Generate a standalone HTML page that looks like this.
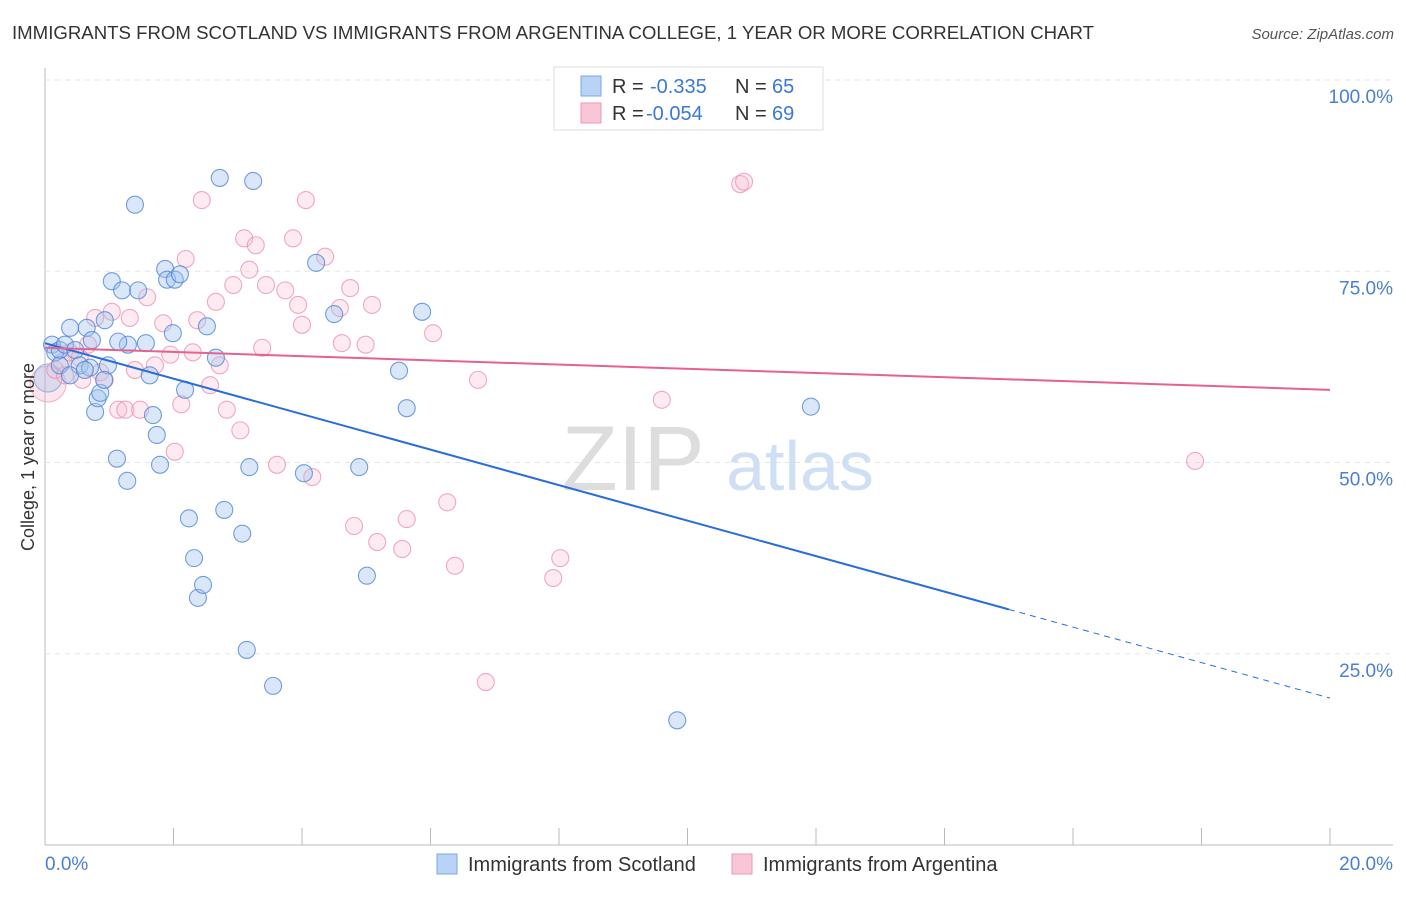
<!DOCTYPE html>
<html><head><meta charset="utf-8"><style>
body{margin:0;background:#fff;font-family:"Liberation Sans",sans-serif;}
svg text{font-family:"Liberation Sans",sans-serif;}
</style></head><body>
<svg id="chart" width="1406" height="892" xmlns="http://www.w3.org/2000/svg">
<text x="12" y="39" font-size="18" fill="#333" textLength="1082" lengthAdjust="spacingAndGlyphs">IMMIGRANTS FROM SCOTLAND VS IMMIGRANTS FROM ARGENTINA COLLEGE, 1 YEAR OR MORE CORRELATION CHART</text>
<text x="1394" y="39" font-size="15" fill="#555" font-style="italic" text-anchor="end">Source: ZipAtlas.com</text>
<g id="grid"></g>
<g><text x="633" y="490" font-size="92" fill="#ddd" text-anchor="middle" font-family="Liberation Serif">ZIP</text><text x="800" y="490" font-size="70" fill="#cfe0f5" text-anchor="middle">atlas</text></g>
<g id="pts"></g>
<g id="lines"></g>
<text transform="translate(34,457) rotate(-90)" font-size="18" fill="#333" text-anchor="middle">College, 1 year or more</text>
<text x="45" y="870" font-size="19" fill="#4a7fd0">0.0%</text>
<text x="1393" y="870" font-size="19" fill="#4a7fd0" text-anchor="end">20.0%</text>
<g>
<rect x="554" y="67" width="269" height="63" fill="#fff" stroke="#ddd"/>
<rect x="581" y="76" width="20" height="20" fill="#b8d3f5" stroke="#7aa8e6"/>
<rect x="581" y="103" width="20" height="20" fill="#f8c6d6" stroke="#ec98b4"/>
<text x="612" y="93" font-size="20" fill="#333">R = </text><text x="650" y="93" font-size="20" fill="#3b78d8">-0.335</text>
<text x="735" y="93" font-size="20" fill="#333">N = </text><text x="772" y="93" font-size="20" fill="#3b78d8">65</text>
<text x="612" y="120" font-size="20" fill="#333">R = </text><text x="646" y="120" font-size="20" fill="#3b78d8">-0.054</text>
<text x="735" y="120" font-size="20" fill="#333">N = </text><text x="772" y="120" font-size="20" fill="#3b78d8">69</text>
</g>
<g>
<rect x="437" y="854" width="20" height="20" fill="#b8d3f5" stroke="#7aa8e6"/>
<text x="468" y="871" font-size="20" fill="#333">Immigrants from Scotland</text>
<rect x="732" y="854" width="20" height="20" fill="#f8c6d6" stroke="#ec98b4"/>
<text x="763" y="871" font-size="20" fill="#333">Immigrants from Argentina</text>
</g>
</svg>
<script>
const yTicks=[25,50,75,100];
const yTickLabels=["25.0%","50.0%","75.0%","100.0%"];
const xTicks=[0,2,4,6,8,10,12,14,16,18,20];
const blueX=[.11,.16,.23,.31,.39,.47,.54,.65,.70,.78,.82,.86,.93,.98,1.04,1.12,1.20,1.28,1.29,1.57,1.40,1.45,1.63,1.68,1.74,1.79,1.87,1.90,2.02,2.10,1.99,2.18,2.24,2.32,2.38,2.46,2.52,2.66,2.72,2.79,3.07,3.14,3.18,3.24,3.55,4.03,4.22,4.50,4.89,5.01,5.51,5.63,5.87,9.84,11.92,.23,.39,.62,.73,.92,1.14];
const blueY=[65.4,64.4,64.7,65.4,67.6,64.7,62.7,67.6,62.4,56.6,58.4,59.1,68.6,62.7,73.7,50.5,72.5,47.6,65.4,65.6,83.7,72.5,61.4,56.2,53.6,49.7,75.3,73.9,73.9,74.6,66.9,59.5,42.7,37.5,32.3,34.0,67.8,63.7,87.2,43.8,40.7,25.5,49.4,86.8,20.8,48.6,76.1,69.4,49.4,35.2,62.0,57.1,69.7,16.3,57.3,62.7,61.4,62.1,66.0,60.8,65.8];
const pinkX=[.16,.26,.39,.54,.67,.78,.86,.93,1.04,1.14,1.25,1.32,1.40,1.48,1.59,1.71,1.84,1.95,2.02,2.12,2.19,2.30,2.37,2.44,2.57,2.66,2.72,2.83,2.93,3.04,3.10,3.18,3.28,3.38,3.44,3.61,3.74,3.86,3.94,4.00,4.06,4.16,4.36,4.59,4.62,4.75,4.81,4.99,5.09,5.17,5.56,5.63,6.04,6.26,6.38,6.74,6.86,7.91,8.02,8.20,8.95,9.60,10.82,10.88,17.90,.31,.58];
const pinkY=[62.1,63.1,64.4,63.7,65.4,68.9,61.8,60.8,69.7,56.9,56.9,68.9,62.1,56.9,71.6,62.7,68.2,64.1,51.4,57.6,76.6,64.4,68.6,84.3,60.1,71.0,62.7,56.9,73.2,54.2,79.3,75.2,78.4,65.0,73.2,49.7,72.5,79.3,70.6,68.0,84.3,48.1,76.9,70.2,65.6,72.8,41.7,65.4,70.6,39.6,38.7,42.6,66.9,44.8,36.5,60.8,21.3,34.9,37.5,97.1,99.7,58.2,86.4,86.7,50.2,61.4,60.8];
const blueTrend=[65.6,19.2];const blueSolidEnd=15.0;
const pinkTrend=[65.0,59.5];
const NS="http://www.w3.org/2000/svg";
const sx=v=>45+v*64.25, sy=v=>845-v*7.65;
function mk(t,a,p){const e=document.createElementNS(NS,t);for(const k in a)e.setAttribute(k,a[k]);p.appendChild(e);return e;}
const grid=document.getElementById('grid');
const ax=mk('line',{x1:45,y1:68,x2:45,y2:845,stroke:'#bbb'},grid);


const bx=mk('line',{x1:45,y1:845,x2:1393,y2:845,stroke:'#bbb'},grid);


yTicks.forEach((t,i)=>{const g=mk('line',{x1:45,x2:1393,y1:sy(t),y2:sy(t),stroke:'#e6e6e6','stroke-dasharray':'5,5'},grid);


const l=mk('text',{x:1393,y:sy(t)+23,'font-size':19,fill:'#4a7fd0','text-anchor':'end'},grid);l.textContent=yTickLabels[i];

});
xTicks.forEach(t=>{const k=mk('line',{x1:sx(t),x2:sx(t),y1:828,y2:845,stroke:'#bbb'},grid);

});
const pts=document.getElementById('pts');
function dots(X,Y,fill,stroke,name){X.forEach((x,i)=>{const c=mk('circle',{cx:sx(x),cy:sy(Y[i]),r:8.5,fill:fill,stroke:stroke,'stroke-width':1.1},pts);

});}
const bigP=mk('circle',{cx:48,cy:384,r:18,fill:'rgba(244,170,195,0.3)',stroke:'rgba(236,152,180,0.7)'},pts);


const bigB=mk('circle',{cx:48,cy:378,r:14,fill:'rgba(150,190,240,0.3)',stroke:'rgba(106,155,224,0.7)'},pts);


dots(pinkX,pinkY,'rgba(248,190,210,0.3)','rgba(236,140,172,0.75)','argentina-point');
dots(blueX,blueY,'rgba(160,196,240,0.4)','rgba(80,135,215,0.8)','scotland-point');
const L=document.getElementById('lines');
const by=x=>blueTrend[0]+(blueTrend[1]-blueTrend[0])*x/20;
const b1=mk('line',{x1:sx(0),y1:sy(by(0)),x2:sx(blueSolidEnd),y2:sy(by(blueSolidEnd)),stroke:'#2a6dd9','stroke-width':2},L);


const b2=mk('line',{x1:sx(blueSolidEnd),y1:sy(by(blueSolidEnd)),x2:sx(20),y2:sy(by(20)),stroke:'#2a6dd9','stroke-width':1,'stroke-dasharray':'6,5'},L);


const p1=mk('line',{x1:sx(0),y1:sy(pinkTrend[0]),x2:sx(20),y2:sy(pinkTrend[1]),stroke:'#e8608f','stroke-width':2},L);


</script>
</body></html>
